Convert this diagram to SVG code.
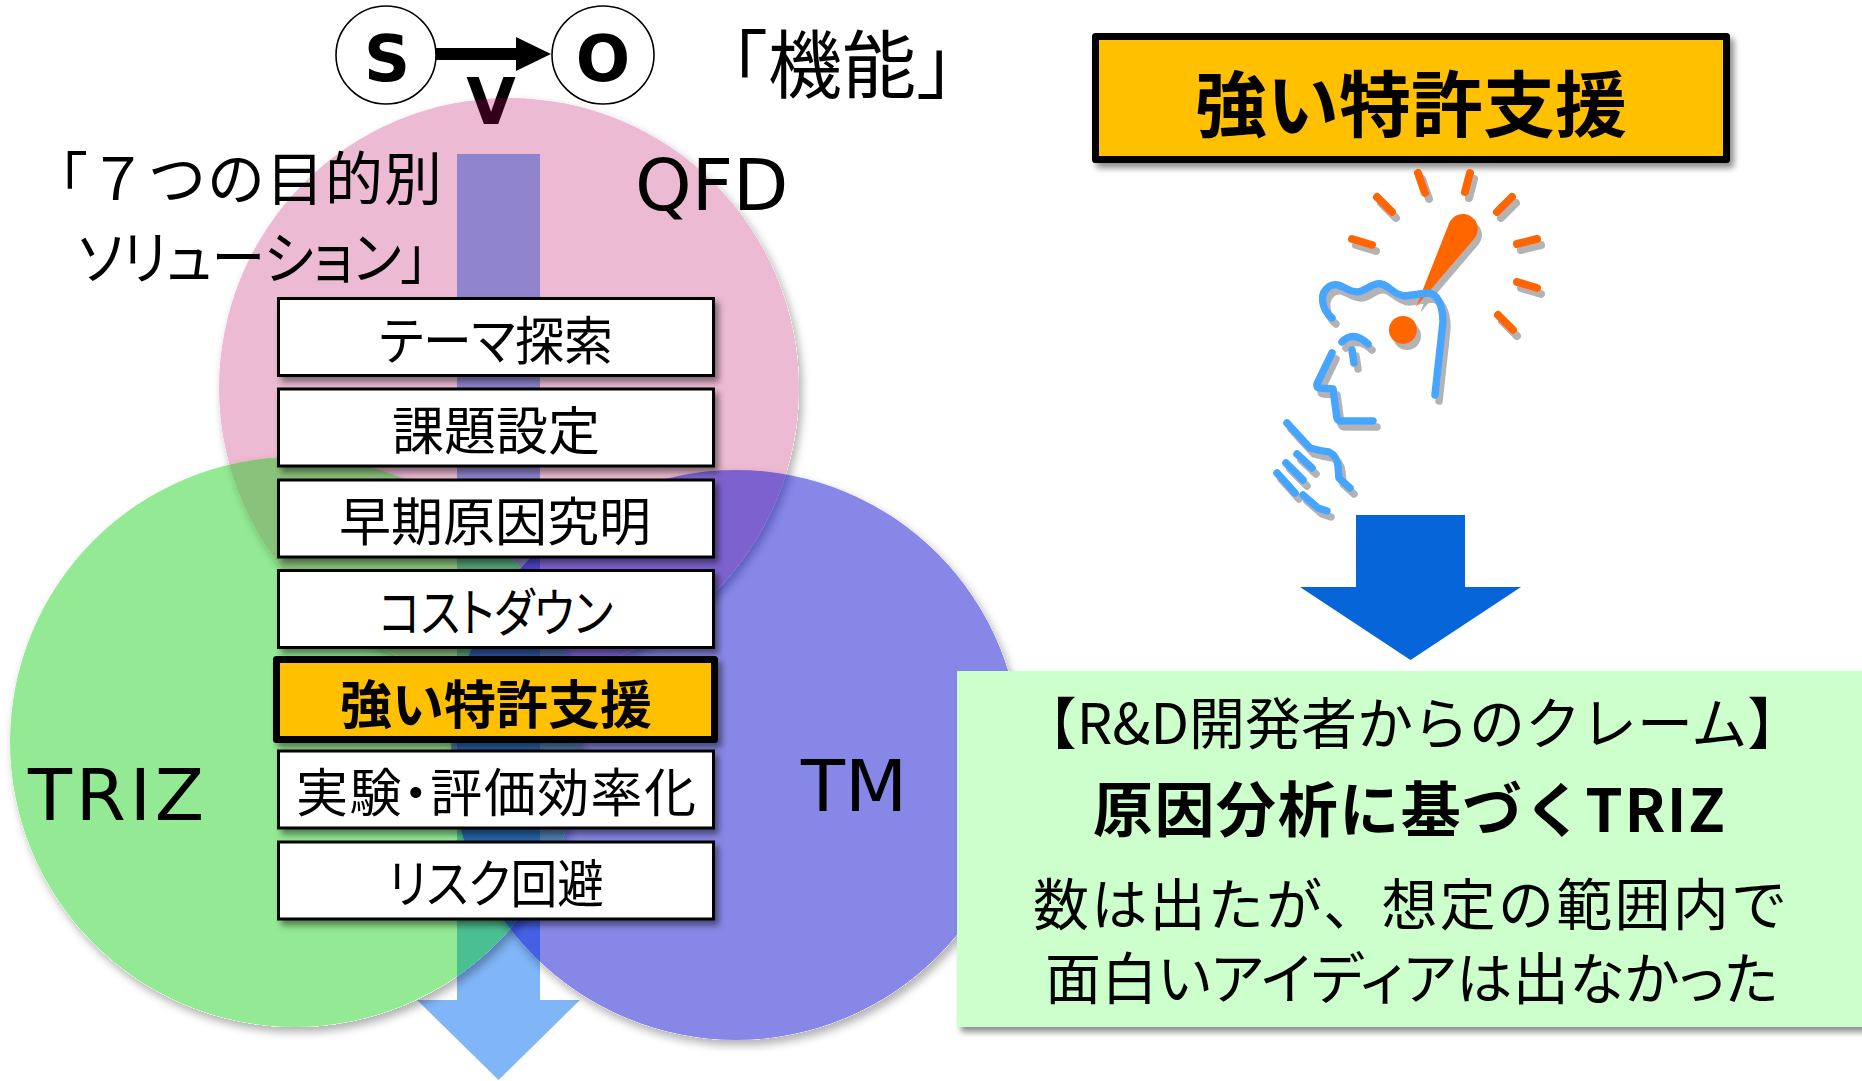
<svg xmlns="http://www.w3.org/2000/svg" width="1862" height="1081" viewBox="0 0 1862 1081">
  <defs>
    <style>
      .jp { font-family: "Noto Sans CJK JP", "Noto Sans", sans-serif; fill: #000; }
      .prop { font-feature-settings: "palt" 1; }
      .lat { font-family: "DejaVu Sans", Verdana, sans-serif; fill: #000; }
      .bold { font-weight: 700; }
      .box { fill: #fff; stroke: #000; stroke-width: 3; filter: url(#dropShadow); }
      .hl { fill: #FFC000; stroke: #000; stroke-width: 7; stroke-linejoin: round; filter: url(#dropShadow); }
      .boxtxt { font-size: 52px; text-anchor: middle; dominant-baseline: central; }
      .disc { filter: url(#discShadow); }
      .ray { stroke: #FF6600; stroke-width: 8; stroke-linecap: round; fill: none; }
      .ln { stroke: #45A5FF; stroke-width: 7.5; stroke-linecap: round; stroke-linejoin: round; fill: none; }
      .svo { fill: #fff; stroke: #000; stroke-width: 1.6; }
    </style>
    <filter id="dropShadow" x="-10%" y="-20%" width="130%" height="160%">
      <feGaussianBlur in="SourceAlpha" stdDeviation="3"/>
      <feOffset dx="4" dy="5" result="b"/>
      <feFlood flood-color="#000" flood-opacity="0.45"/>
      <feComposite in2="b" operator="in"/>
      <feMerge><feMergeNode/><feMergeNode in="SourceGraphic"/></feMerge>
    </filter>
    <filter id="discShadow" x="-10%" y="-10%" width="125%" height="125%">
      <feComponentTransfer in="SourceAlpha" result="solid"><feFuncA type="linear" slope="20"/></feComponentTransfer>
      <feGaussianBlur in="solid" stdDeviation="4"/>
      <feOffset dx="3" dy="5" result="b"/>
      <feFlood flood-color="#000" flood-opacity="0.3"/>
      <feComposite in2="b" operator="in"/>
      <feComposite in2="solid" operator="out" result="sh"/>
      <feMerge><feMergeNode in="sh"/><feMergeNode in="SourceGraphic"/></feMerge>
    </filter>
    <filter id="iconShadow" x="-10%" y="-10%" width="130%" height="130%">
      <feOffset in="SourceAlpha" dx="4" dy="6" result="o"/>
      <feFlood flood-color="#B3B3B3"/>
      <feComposite in2="o" operator="in"/>
      <feMerge><feMergeNode/><feMergeNode in="SourceGraphic"/></feMerge>
    </filter>
  </defs>

  <rect width="1862" height="1081" fill="#fff"/>

  <!-- flow arrow running down behind the three methods -->
  <polygon id="flow-arrow" points="457,154 540,154 540,1000 580,1000 498.5,1080 417,1000 457,1000" fill="#80B5F8"/>

  <!-- subject / verb / object -->
  <g id="svo-s">
    <ellipse class="svo" cx="386" cy="55" rx="50" ry="49"/>
    <text class="lat bold" x="387" y="81" font-size="64" text-anchor="middle">S</text>
  </g>
  <g id="svo-o">
    <ellipse class="svo" cx="603" cy="55" rx="51" ry="49"/>
    <text class="lat bold" x="603" y="81" font-size="64" text-anchor="middle">O</text>
  </g>
  <g id="connectors">
    <polygon points="436,48 516,48 516,37 551,54 516,71 516,60 436,60" fill="#000"/>
  </g>
  <text id="svo-v" class="lat bold" x="491" y="124" font-size="64" text-anchor="middle">V</text>

  <!-- method circles -->
  <g id="qfd">
    <circle class="disc" cx="509" cy="388" r="290" fill="rgb(185,4,93)" fill-opacity="0.27"/>
  </g>
  <g id="triz">
    <circle class="disc" cx="295" cy="742" r="285" fill="#00CC00" fill-opacity="0.42"/>
  </g>
  <g id="tm">
    <circle class="disc" cx="736" cy="755" r="285" fill="#0000CC" fill-opacity="0.47"/>
  </g>
  <text class="lat" x="635" y="210" font-size="72">QFD</text>
  <text class="lat" x="28" y="820" font-size="72" textLength="176">TRIZ</text>
  <text class="lat" x="801" y="811" font-size="72">TM</text>

  <!-- headings -->
  <g id="heading-solutions">
    <text class="jp" x="30" y="200" font-size="58" textLength="412" lengthAdjust="spacing">「７つの目的別</text>
    <text class="jp prop" x="78" y="279" font-size="58" textLength="350" lengthAdjust="spacingAndGlyphs">ソリューション」</text>
  </g>
  <text id="heading-function" class="jp" x="842" y="92" font-size="74" text-anchor="middle">「機能」</text>

  <!-- seven purpose boxes -->
  <g id="step-theme">
    <rect class="box" x="278.5" y="298.5" width="435" height="77"/>
    <text class="jp prop boxtxt" x="496" y="337" textLength="234" lengthAdjust="spacingAndGlyphs">テーマ探索</text>
  </g>
  <g id="step-issue">
    <rect class="box" x="278.5" y="389" width="435" height="77"/>
    <text class="jp boxtxt" x="496" y="427.5">課題設定</text>
  </g>
  <g id="step-cause">
    <rect class="box" x="278.5" y="480" width="435" height="77"/>
    <text class="jp boxtxt" x="495" y="518.5" font-size="53">早期原因究明</text>
  </g>
  <g id="step-cost">
    <rect class="box" x="278.5" y="570.5" width="435" height="77"/>
    <text class="jp prop boxtxt" x="496" y="609" textLength="234" lengthAdjust="spacingAndGlyphs">コストダウン</text>
  </g>
  <g id="step-patent">
    <rect class="hl" x="276.5" y="659.5" width="438" height="80"/>
    <text class="jp bold boxtxt" x="496" y="701">強い特許支援</text>
  </g>
  <g id="step-experiment">
    <rect class="box" x="278.5" y="751" width="435" height="77"/>
    <text class="jp prop boxtxt" x="496" y="789.5" textLength="400" lengthAdjust="spacing">実験・評価効率化</text>
  </g>
  <g id="step-risk">
    <rect class="box" x="278.5" y="842" width="435" height="77"/>
    <text class="jp prop boxtxt" x="496" y="880.5" textLength="216" lengthAdjust="spacingAndGlyphs">リスク回避</text>
  </g>

  <!-- right column -->
  <g id="title-patent">
    <rect class="hl" x="1095.5" y="36.5" width="631" height="123"/>
    <text class="jp bold" x="1411" y="99" font-size="72" text-anchor="middle" dominant-baseline="central">強い特許支援</text>
  </g>

  <g id="idea-figure" filter="url(#iconShadow)">
    <line class="ray" x1="1418" y1="173" x2="1425" y2="193"/>
    <line class="ray" x1="1470" y1="173" x2="1465" y2="192"/>
    <line class="ray" x1="1377" y1="197" x2="1392" y2="212"/>
    <line class="ray" x1="1512" y1="197" x2="1497" y2="212"/>
    <line class="ray" x1="1352" y1="239" x2="1372" y2="245"/>
    <line class="ray" x1="1537" y1="239" x2="1517" y2="244"/>
    <line class="ray" x1="1517" y1="282" x2="1537" y2="288"/>
    <line class="ray" x1="1498" y1="315" x2="1513" y2="330"/>
    <path d="M1416,307 L1449,223.5 A15,15 0 1 1 1474.4,238.7 Z" fill="#FF6600"/>
    <circle cx="1403" cy="330" r="14" fill="#FF6600"/>
    <path class="ln" d="M1332,318 C1322,310 1318,293 1330,286 C1340,281 1346,292 1357,292 C1366,292 1372,282 1381,284 C1390,286 1393,295 1405,296 L1428,293 C1437,293 1443,305 1443,322 L1435,395"/>
    <path class="ln" d="M1342,342 Q1353,330 1368,344"/>
    <path class="ln" d="M1352,350 L1354,363"/>
    <path class="ln" d="M1332,353 L1317,384 Q1316,388 1320,388 L1333,389 L1337,418 Q1338,421 1342,421 L1373,421"/>
    <path class="ln" d="M1287,423 L1310,448 Q1320,451 1329,452 Q1337,456 1338,466 L1339,478 L1350,488"/>
    <path class="ln" d="M1297,454 L1312,468"/>
    <path class="ln" d="M1286,463 L1303,480"/>
    <path class="ln" d="M1277,473 L1295,493"/>
    <path class="ln" d="M1303,495 L1318,508 L1327,511"/>
  </g>

  <polygon id="result-arrow" points="1356,515 1465,515 1465,587 1521,587 1410.5,660 1300,587 1356,587" fill="#0565D9"/>

  <g id="claim">
    <rect x="957" y="671" width="920" height="356" fill="#CCFFCC" filter="url(#dropShadow)"/>
    <text class="jp" x="1412" y="744" font-size="56" text-anchor="middle">【R&amp;D開発者からのクレーム】</text>
    <text class="jp bold" x="1093" y="832" font-size="60" textLength="632" lengthAdjust="spacing">原因分析に基づくTRIZ</text>
    <text class="jp" x="1033" y="925" font-size="56" textLength="754" lengthAdjust="spacing">数は出たが、想定の範囲内で</text>
    <text class="jp prop" x="1045" y="999" font-size="56" textLength="733" lengthAdjust="spacing">面白いアイディアは出なかった</text>
  </g>
</svg>
